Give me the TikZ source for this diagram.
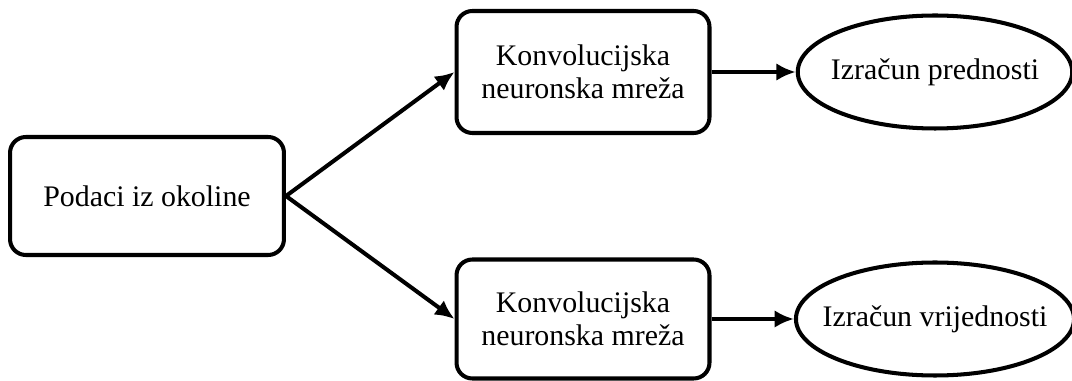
\documentclass[tikz,border=0pt]{standalone}
\usepackage{fontspec}
\setmainfont{Liberation Serif}
\usetikzlibrary{arrows.meta, shapes.geometric}
\tikzstyle{myBox} = [rectangle, rounded corners=9pt, draw, line width=2.3pt, text centered, align=center, minimum height=2.4cm]
\tikzstyle{myEllipse} = [ellipse, draw, line width=2.3pt, text centered, inner xsep=-4pt, minimum width=5.4cm, minimum height=2.26cm]
\tikzstyle{myArrow} = [line width=2.3pt, -{Latex[length=11pt,width=10pt]}]

\begin{document}
\begin{tikzpicture}[x=0.02cm, y=-0.02cm, font=\fontsize{17}{19}\selectfont]
	\useasboundingbox (0,0) rectangle (1072,381);
	% boxes
		\node [myBox, minimum width=5.48cm, minimum height=2.36cm](okolina) at (147,196){Podaci iz okoline};
		\node [myBox, minimum width=5.06cm, minimum height=2.44cm](mreza1) at (583,72){Konvolucijska\\neuronska mreža};
		\node [myBox, minimum width=5.06cm, minimum height=2.38cm](mreza2) at (583,319){Konvolucijska\\neuronska mreža};
	% ellipses
		\node [myEllipse](prednost) at (935,72){Izračun prednosti};
		\node [myEllipse, inner xsep=-8pt](vrijednost) at (935,319){Izračun vrijednosti};
	% arrows
		\draw [myArrow] (okolina.east) -- (mreza1.west);
		\draw [myArrow] (okolina.east) -- (mreza2.west);
		\draw [myArrow] (mreza1.east) -- (prednost.west);
		\draw [myArrow] (mreza2.east) -- (vrijednost.west);
\end{tikzpicture}
\end{document}
